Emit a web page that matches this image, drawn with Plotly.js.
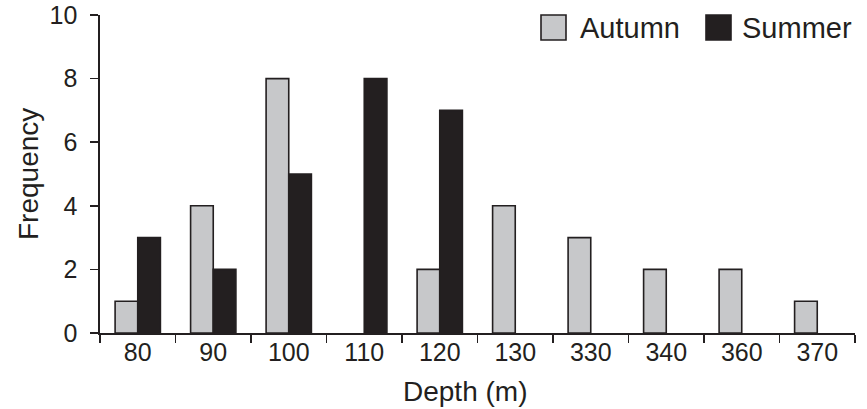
<!DOCTYPE html>
<html>
<head>
<meta charset="utf-8">
<script src="https://cdn.plot.ly/plotly-3.0.1.min.js"></script>
<style>html,body{margin:0;padding:0;background:#fff;}#chart{width:867px;height:409px;}</style>
</head>
<body>
<div id="chart"></div>
<script>
const depths = ['80', '90', '100', '110', '120', '130', '330', '340', '360', '370'];
const autumn = [1, 4, 8, 0, 2, 4, 3, 2, 2, 1];
const summer = [3, 2, 5, 8, 7, 0, 0, 0, 0, 0];
const seriesNames = ['Autumn', 'Summer'];
const yTicks = [0, 2, 4, 6, 8, 10];

const ink = '#231f20';
const grey = '#c7c8ca';
const W = 867, H = 409;
const M = {l: 100, r: 12, t: 15, b: 76};
const PW = W - M.l - M.r, PH = H - M.t - M.b;
const px = x => (x - M.l) / PW;
const py = y => (H - M.b - y) / PH;
const outline = vals => vals.map(v => v > 0 ? 1.6 : 0);

const traces = [
  {type: 'bar', name: seriesNames[0], x: depths, y: autumn,
   marker: {color: grey, line: {color: ink, width: outline(autumn)}}},
  {type: 'bar', name: seriesNames[1], x: depths, y: summer,
   marker: {color: ink, line: {color: ink, width: outline(summer)}}}
];

const font = {family: 'Liberation Sans, Arial, Helvetica, sans-serif', color: ink};

const layout = {
  width: W, height: H,
  margin: M,
  paper_bgcolor: '#fff', plot_bgcolor: '#fff',
  barmode: 'group', bargap: 0.4, bargroupgap: 0,
  showlegend: false,
  font: Object.assign({size: 25}, font),
  xaxis: {
    type: 'category', showline: true, linecolor: ink, linewidth: 1.6,
    ticks: 'outside', tickson: 'boundaries', ticklen: 8, tickwidth: 1.6, tickcolor: ink,
    showgrid: false, zeroline: false, ticklabelstandoff: -4,
    tickfont: Object.assign({size: 25}, font)
  },
  yaxis: {
    range: [0, 10], tickvals: yTicks, showline: true, linecolor: ink, linewidth: 1.6,
    ticks: 'outside', ticklen: 8, tickwidth: 1.6, tickcolor: ink,
    showgrid: false, zeroline: false, ticklabelstandoff: 8,
    tickfont: Object.assign({size: 25}, font)
  },
  shapes: [
    {type: 'rect', xref: 'paper', yref: 'paper', x0: px(541), x1: px(566), y0: py(40), y1: py(15),
     fillcolor: grey, line: {color: ink, width: 1.6}},
    {type: 'rect', xref: 'paper', yref: 'paper', x0: px(706), x1: px(731), y0: py(40), y1: py(15),
     fillcolor: ink, line: {color: ink, width: 1.6}}
  ],
  annotations: [
    {xref: 'paper', yref: 'paper', x: px(578), y: py(28), xanchor: 'left', yanchor: 'middle',
     text: seriesNames[0], showarrow: false, font: Object.assign({size: 29}, font)},
    {xref: 'paper', yref: 'paper', x: px(740), y: py(28), xanchor: 'left', yanchor: 'middle',
     text: seriesNames[1], showarrow: false, font: Object.assign({size: 29}, font)},
    {xref: 'paper', yref: 'paper', x: px(465), y: py(391), xanchor: 'center', yanchor: 'middle',
     text: 'Depth (m)', showarrow: false, font: Object.assign({size: 28}, font)},
    {xref: 'paper', yref: 'paper', x: px(28), y: py(174), xanchor: 'center', yanchor: 'middle',
     text: 'Frequency', textangle: -90, showarrow: false, font: Object.assign({size: 28}, font)}
  ]
};

Plotly.newPlot('chart', traces, layout, {displayModeBar: false, staticPlot: true});
</script>
</body>
</html>
